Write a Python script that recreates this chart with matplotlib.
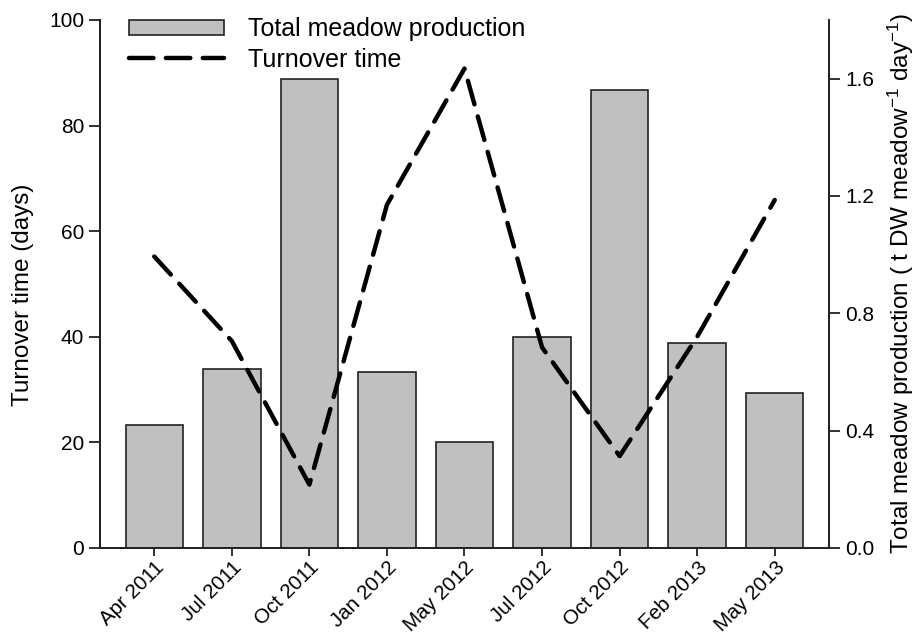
import matplotlib.pyplot as plt
import numpy as np

plt.rcParams['font.family'] = ['Liberation Sans', 'DejaVu Sans']
plt.rcParams['mathtext.fontset'] = 'custom'
plt.rcParams['mathtext.rm'] = 'Liberation Sans'
plt.rcParams['mathtext.it'] = 'Liberation Sans'

dates = ["Apr 2011", "Jul 2011", "Oct 2011", "Jan 2012", "May 2012",
         "Jul 2012", "Oct 2012", "Feb 2013", "May 2013"]
production = [0.42, 0.61, 1.60, 0.60, 0.36, 0.72, 1.56, 0.70, 0.53]
turnover = [55.2, 39.2, 12.0, 65.0, 90.8, 38.0, 17.4, 40.0, 65.9]

x = np.arange(len(dates))

fig = plt.figure(figsize=(9.24, 6.36), dpi=100)
ax1 = fig.add_axes([0.1082, 0.1384, 0.789, 0.8302])
ax2 = ax1.twinx()

bars = ax2.bar(x, production, width=0.74, color='#c0c0c0', edgecolor='#222222',
               linewidth=1.2, label='Total meadow production')
line, = ax1.plot(x, turnover, color='black', lw=3.2, dashes=(5.5, 2.8),
                 dash_capstyle='round', label='Turnover time')

# line on top of the bars
ax1.set_zorder(ax2.get_zorder() + 1)
ax1.patch.set_visible(False)

ax1.set_xlim(-0.7, 8.7)
ax1.set_ylim(0, 100)
ax2.set_ylim(0, 1.8)
ax1.set_yticks([0, 20, 40, 60, 80, 100])
ax2.set_yticks([0.0, 0.4, 0.8, 1.2, 1.6])
ax2.set_yticklabels(['0.0', '0.4', '0.8', '1.2', '1.6'])

ax1.set_xticks(x)
ax1.set_xticklabels(dates, rotation=45, ha='right', va='top', rotation_mode='anchor')

for ax in (ax1, ax2):
    ax.spines['top'].set_visible(False)
    for s in ax.spines.values():
        s.set_linewidth(1.3)
        s.set_color('#222222')
    ax.tick_params(direction='out', length=8, width=1.3, labelsize=15, color='#222222')
ax1.tick_params(axis='x', length=6, pad=1, labelsize=14.8)

ax1.set_ylabel('Turnover time (days)', fontsize=17.5)
ax1.yaxis.set_label_coords(-0.09, 0.48)
ax2.set_ylabel('Total meadow production ( t DW meadow$^{-1}$ day$^{-1}$)', fontsize=17.5,
               labelpad=8)

ax1.legend([bars, line], ['Total meadow production', 'Turnover time'],
           loc='upper left', bbox_to_anchor=(0.04, 1.005), frameon=False,
           fontsize=18, handlelength=3.8, handleheight=0.6, handletextpad=0.95,
           borderpad=0, borderaxespad=0, labelspacing=0.25)

fig.savefig('out.png', dpi=100)
